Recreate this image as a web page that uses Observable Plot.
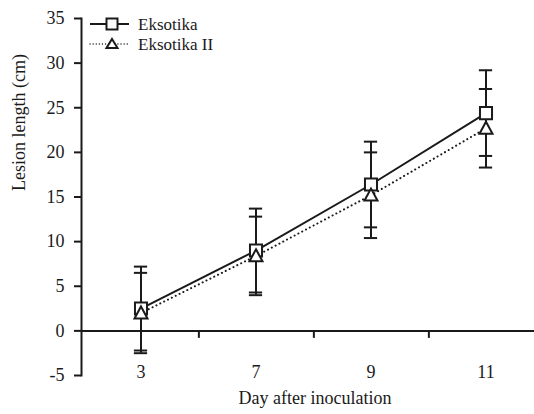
<!DOCTYPE html>
<html><head><meta charset="utf-8">
<script src="https://cdn.jsdelivr.net/npm/d3@7"></script>
<script src="https://cdn.jsdelivr.net/npm/@observablehq/plot@0.6"></script>
<style>
body{margin:0;background:#fff;}
#wrap{position:relative;width:534px;height:414px;font-family:"Liberation Serif","Times New Roman",serif;color:#1a1a1a;}
#legend{position:absolute;left:0;top:0;}
</style></head><body><div id="wrap"></div>
<script>
// ---- data ----
const days = ["3", "7", "9", "11"];
const seriesNames = ["Eksotika", "Eksotika II"];
const eksotikaMean = [2.5, 9.0, 16.4, 24.4];
const eksotikaSD = [4.7, 4.7, 4.8, 4.8];
const eksotika2Mean = [2.0, 8.4, 15.2, 22.7];
const eksotika2SD = [4.5, 4.4, 4.8, 4.4];
const yTicks = [-5, 0, 5, 10, 15, 20, 25, 30, 35];
const xTitle = "Day after inoculation";
const yTitle = "Lesion length (cm)";

const rows = [];
days.forEach((d, i) => {
  rows.push({day: d, series: seriesNames[0], mean: eksotikaMean[i], sd: eksotikaSD[i]});
  rows.push({day: d, series: seriesNames[1], mean: eksotika2Mean[i], sd: eksotika2SD[i]});
});
const s1 = rows.filter(r => r.series === seriesNames[0]);
const s2 = rows.filter(r => r.series === seriesNames[1]);

const ink = "#1a1a1a";
const font = '"Liberation Serif","Times New Roman",serif';
const fs = 18;
const W = 534, H = 414, mL = 81, mT = 18, mB = 39;
const xRange = [mL, 544];
const halfBand = (xRange[1] - xRange[0]) / days.length / 2;
const capInset = halfBand - 7;

const tickDown = {draw(ctx) { ctx.moveTo(0, 0); ctx.lineTo(0, 7); }};
const tri = {draw(ctx, size) {
  const w = 13, h = 12;
  ctx.moveTo(0, -h * 0.55); ctx.lineTo(w / 2, h * 0.45); ctx.lineTo(-w / 2, h * 0.45); ctx.closePath();
}};

const chart = Plot.plot({
  width: W, height: H,
  marginLeft: mL, marginRight: 0, marginTop: mT, marginBottom: mB,
  style: {fontFamily: font, color: ink, background: "#fff", overflow: "visible"},
  x: {type: "band", domain: days, range: xRange, padding: 0},
  y: {domain: [-5, 35]},
  marks: [
    Plot.frame({anchor: "left", stroke: ink, strokeWidth: 2}),
    Plot.axisY(yTicks, {tickSize: 7, tickPadding: 10, fontSize: fs, strokeWidth: 2, stroke: ink, fill: ink, label: null, tickFormat: d => String(d)}),
    Plot.axisX({tickSize: 0, tickPadding: 0, dy: -10, fontSize: fs, fill: ink, label: null}),
    Plot.ruleY([0], {stroke: ink, strokeWidth: 2}),
    Plot.dot(days.slice(0, -1), {x: d => d, y: () => 0, dx: halfBand, symbol: tickDown, stroke: ink, strokeWidth: 2}),
    Plot.ruleX(rows, {x: "day", y1: d => d.mean - d.sd, y2: d => d.mean + d.sd, stroke: ink, strokeWidth: 2}),
    Plot.tickY(rows, {x: "day", y: d => d.mean + d.sd, stroke: ink, strokeWidth: 2, insetLeft: capInset, insetRight: capInset}),
    Plot.tickY(rows, {x: "day", y: d => d.mean - d.sd, stroke: ink, strokeWidth: 2, insetLeft: capInset, insetRight: capInset}),
    Plot.line(s1, {x: "day", y: "mean", stroke: ink, strokeWidth: 2}),
    Plot.line(s2, {x: "day", y: "mean", stroke: ink, strokeWidth: 2, strokeDasharray: "0.1,4.2", strokeLinecap: "round"}),
    Plot.dot(s1, {x: "day", y: "mean", symbol: "square", r: 6.8, fill: "#fff", stroke: ink, strokeWidth: 2}),
    Plot.dot(s2, {x: "day", y: "mean", symbol: tri, fill: "#fff", stroke: ink, strokeWidth: 2}),
    Plot.text([yTitle], {frameAnchor: "left", rotate: -90, dx: -62, dy: -6, fontSize: fs, fill: ink}),
    Plot.text([xTitle], {frameAnchor: "bottom", dx: 7, dy: 28, fontSize: fs, fill: ink})
  ]
});
const wrap = document.getElementById("wrap");
wrap.appendChild(chart);

// legend overlay
const ns = "http://www.w3.org/2000/svg";
const lg = document.createElementNS(ns, "svg");
lg.setAttribute("id", "legend");
lg.setAttribute("width", 240); lg.setAttribute("height", 60);
const legendRows = [
  {name: seriesNames[0], y: 24, dash: null, marker: "square"},
  {name: seriesNames[1], y: 44, dash: "0.1,3", marker: "tri"}
];
legendRows.forEach(r => {
  const ln = document.createElementNS(ns, "line");
  ln.setAttribute("x1", 90); ln.setAttribute("x2", 129);
  ln.setAttribute("y1", r.y); ln.setAttribute("y2", r.y);
  ln.setAttribute("stroke", ink);
  ln.setAttribute("stroke-width", r.dash ? 1.3 : 2);
  if (r.dash) { ln.setAttribute("stroke-dasharray", r.dash); ln.setAttribute("stroke-linecap", "round"); }
  lg.appendChild(ln);
  let m;
  if (r.marker === "square") {
    m = document.createElementNS(ns, "rect");
    m.setAttribute("x", 106.5); m.setAttribute("y", r.y - 5.5);
    m.setAttribute("width", 11); m.setAttribute("height", 11);
  } else {
    m = document.createElementNS(ns, "path");
    m.setAttribute("d", `M112,${r.y - 5} L117.5,${r.y + 4} L106.5,${r.y + 4} Z`);
  }
  m.setAttribute("fill", "#fff"); m.setAttribute("stroke", ink); m.setAttribute("stroke-width", 2);
  lg.appendChild(m);
  const t = document.createElementNS(ns, "text");
  t.setAttribute("x", 138); t.setAttribute("y", r.y + 6);
  t.setAttribute("font-size", 17); t.setAttribute("fill", ink);
  t.setAttribute("font-family", font);
  t.textContent = r.name;
  lg.appendChild(t);
});
wrap.appendChild(lg);
</script>
</body></html>
